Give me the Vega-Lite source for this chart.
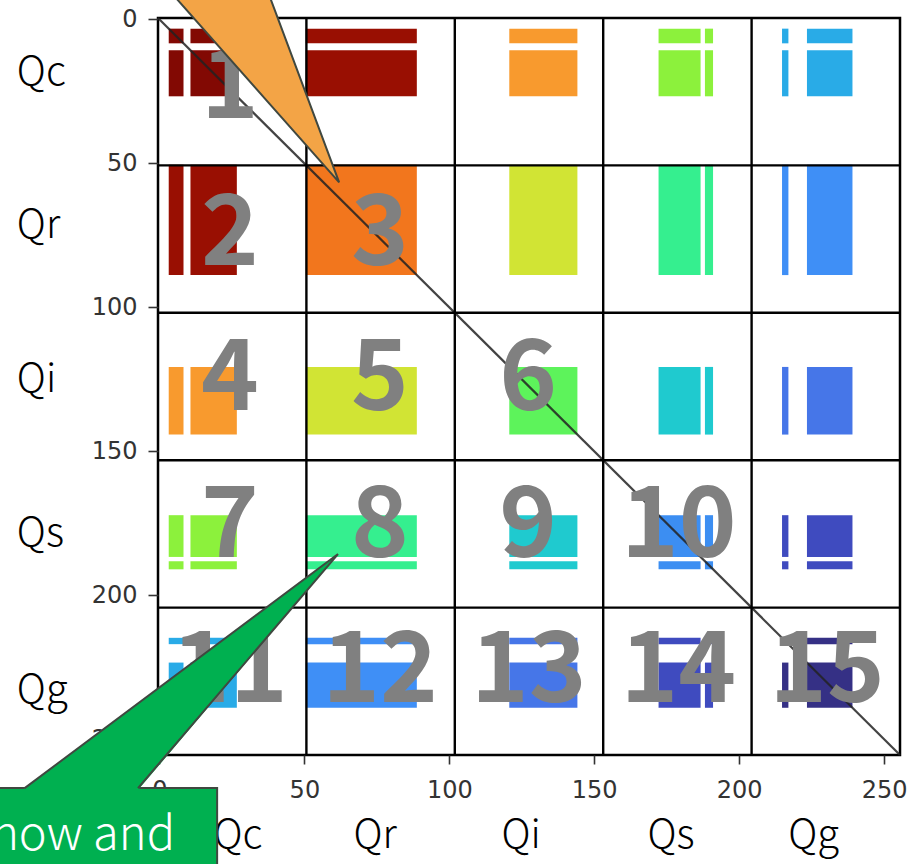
{
  "$schema": "https://vega.github.io/schema/vega-lite/v6.json",
  "width": 742,
  "height": 737,
  "autosize": {"type": "none"},
  "padding": {"left": 158, "top": 18, "right": 12, "bottom": 109},
  "background": "white",
  "config": {
    "view": {"stroke": "black", "strokeWidth": 2.5},
    "axis": {"labelFont": "DejaVu Sans", "labelFontSize": 24, "labelColor": "#333333", "tickColor": "#333333", "tickWidth": 1.6, "domain": false, "grid": false, "labelFlush": false, "labelOverlap": false, "tickCount": 6},
    "axisX": {"tickSize": 9, "labelPadding": 14},
    "axisY": {"tickSize": 10, "labelPadding": 11}
  },
  "datasets": {
    "vars": [
      {"v": "Qc", "s": [3.2, 10.7], "e": [8.3, 26.7]},
      {"v": "Qr", "s": [50.5], "e": [88.8]},
      {"v": "Qi", "s": [120.7], "e": [144.2]},
      {"v": "Qs", "s": [172.2, 188.2], "e": [186.7, 191.0]},
      {"v": "Qg", "s": [214.8, 223.4], "e": [217.0, 239.1]}
    ],
    "cells": [
      {"row": "Qc", "col": "Qc", "k": 1}, {"row": "Qc", "col": "Qr", "k": 2}, {"row": "Qc", "col": "Qi", "k": 4}, {"row": "Qc", "col": "Qs", "k": 7}, {"row": "Qc", "col": "Qg", "k": 11},
      {"row": "Qr", "col": "Qc", "k": 2}, {"row": "Qr", "col": "Qr", "k": 3}, {"row": "Qr", "col": "Qi", "k": 5}, {"row": "Qr", "col": "Qs", "k": 8}, {"row": "Qr", "col": "Qg", "k": 12},
      {"row": "Qi", "col": "Qc", "k": 4}, {"row": "Qi", "col": "Qr", "k": 5}, {"row": "Qi", "col": "Qi", "k": 6}, {"row": "Qi", "col": "Qs", "k": 9}, {"row": "Qi", "col": "Qg", "k": 13},
      {"row": "Qs", "col": "Qc", "k": 7}, {"row": "Qs", "col": "Qr", "k": 8}, {"row": "Qs", "col": "Qi", "k": 9}, {"row": "Qs", "col": "Qs", "k": 10}, {"row": "Qs", "col": "Qg", "k": 14},
      {"row": "Qg", "col": "Qc", "k": 11}, {"row": "Qg", "col": "Qr", "k": 12}, {"row": "Qg", "col": "Qi", "k": 13}, {"row": "Qg", "col": "Qs", "k": 14}, {"row": "Qg", "col": "Qg", "k": 15}
    ],
    "numbers": [
      {"n": "1", "x": 24.3, "y": 34.2},
      {"n": "2", "x": 24.3, "y": 85.3}, {"n": "3", "x": 76.1, "y": 85.3},
      {"n": "4", "x": 24.3, "y": 135.7}, {"n": "5", "x": 76.1, "y": 135.7}, {"n": "6", "x": 127.2, "y": 135.7},
      {"n": "7", "x": 24.3, "y": 186.7}, {"n": "8", "x": 76.1, "y": 186.7}, {"n": "9", "x": 127.2, "y": 186.7}, {"n": "10", "x": 179.2, "y": 186.7},
      {"n": "11", "x": 24.3, "y": 237.1}, {"n": "12", "x": 76.1, "y": 237.1}, {"n": "13", "x": 127.4, "y": 237.1}, {"n": "14", "x": 179.0, "y": 237.1}, {"n": "15", "x": 230.3, "y": 237.1}
    ]
  },
  "layer": [
    {
      "data": {"name": "cells"},
      "transform": [
        {"lookup": "row", "from": {"data": {"name": "vars"}, "key": "v", "fields": ["s", "e"]}, "as": ["ys", "ye"]},
        {"lookup": "col", "from": {"data": {"name": "vars"}, "key": "v", "fields": ["s", "e"]}, "as": ["xs", "xe"]},
        {"flatten": ["ys", "ye"]},
        {"flatten": ["xs", "xe"]}
      ],
      "mark": {"type": "rect"},
      "encoding": {
        "x": {"field": "xs", "type": "quantitative", "title": null, "scale": {"domain": [-0.5, 255.5], "nice": false, "zero": false},
              "axis": {"values": [0, 50, 100, 150, 200, 250], "title": null}},
        "x2": {"field": "xe", "title": null},
        "y": {"field": "ys", "type": "quantitative", "title": null, "scale": {"domain": [-0.5, 255.5], "nice": false, "zero": false, "reverse": true},
              "axis": {"values": [0, 50, 100, 150, 200, 250], "title": null}},
        "y2": {"field": "ye", "title": null},
        "color": {"field": "k", "type": "nominal", "legend": null,
                  "scale": {"domain": [1, 2, 3, 4, 5, 6, 7, 8, 9, 10, 11, 12, 13, 14, 15],
                            "range": ["#820903", "#990f02", "#f2761d", "#f89a2e", "#d1e434", "#5df35b", "#8cf13c", "#35ef8f", "#1fcacf", "#3c8ef2", "#29abe7", "#3f8ff6", "#4676e8", "#3f4bbf", "#353085"]}}
      }
    },
    {
      "data": {"values": [{"x": -0.5, "y": -0.5, "x2": 255.5, "y2": 255.5}]},
      "mark": {"type": "rule", "color": "#222222", "strokeWidth": 2.2, "opacity": 0.85},
      "encoding": {
        "x": {"field": "x", "type": "quantitative", "title": null},
        "y": {"field": "y", "type": "quantitative", "title": null},
        "x2": {"field": "x2", "title": null},
        "y2": {"field": "y2", "title": null}
      }
    },
    {
      "data": {"values": [{"b": 50.7}, {"b": 101.9}, {"b": 153.1}, {"b": 204.3}]},
      "mark": {"type": "rule", "color": "black", "strokeWidth": 2.4},
      "encoding": {"x": {"field": "b", "type": "quantitative", "title": null}}
    },
    {
      "data": {"values": [{"b": 50.7}, {"b": 101.9}, {"b": 153.1}, {"b": 204.3}]},
      "mark": {"type": "rule", "color": "black", "strokeWidth": 2.4},
      "encoding": {"y": {"field": "b", "type": "quantitative", "title": null}}
    },
    {
      "data": {"name": "numbers"},
      "mark": {"type": "text", "font": "Noto Sans CJK JP", "fontSize": 98, "fontWeight": "bold", "color": "#808080", "align": "center", "baseline": "alphabetic"},
      "encoding": {
        "x": {"field": "x", "type": "quantitative", "title": null},
        "y": {"field": "y", "type": "quantitative", "title": null},
        "text": {"field": "n"}
      }
    },
    {
      "data": {"values": [{"x": 5.16, "y": -8.06, "y2": -8.06}, {"x": 38.0, "y": -8.06, "y2": 29.3}, {"x": 62.0, "y": 56.6, "y2": 56.6}]},
      "mark": {"type": "area", "orient": "vertical", "color": "#f3a446", "opacity": 1, "stroke": "#404840", "strokeWidth": 2},
      "encoding": {
        "x": {"field": "x", "type": "quantitative", "title": null},
        "y": {"field": "y", "type": "quantitative", "title": null},
        "y2": {"field": "y2", "title": null}
      }
    },
    {
      "data": {"values": [{"t": "Qc", "x": -49.2, "y": 22.8}, {"t": "Qr", "x": -49.2, "y": 75.9}, {"t": "Qi", "x": -49.2, "y": 129.4}, {"t": "Qs", "x": -49.2, "y": 182.9}, {"t": "Qg", "x": -49.2, "y": 237.4}]},
      "mark": {"type": "text", "font": "Noto Sans CJK JP", "fontSize": 40, "fontWeight": 300, "color": "black", "align": "left", "baseline": "alphabetic"},
      "encoding": {
        "x": {"field": "x", "type": "quantitative", "title": null},
        "y": {"field": "y", "type": "quantitative", "title": null},
        "text": {"field": "t"}
      }
    },
    {
      "data": {"values": [{"t": "Qc", "x": 27.1, "y": 287.8}, {"t": "Qr", "x": 74.4, "y": 287.8}, {"t": "Qi", "x": 124.8, "y": 287.8}, {"t": "Qs", "x": 176.5, "y": 287.8}, {"t": "Qg", "x": 225.7, "y": 287.8}]},
      "mark": {"type": "text", "font": "Noto Sans CJK JP", "fontSize": 40, "fontWeight": 300, "color": "black", "align": "center", "baseline": "alphabetic"},
      "encoding": {
        "x": {"field": "x", "type": "quantitative", "title": null},
        "y": {"field": "y", "type": "quantitative", "title": null},
        "text": {"field": "t"}
      }
    },
    {
      "data": {"values": [{"x": -80, "x2": 19.9, "y": 267.0, "y2": 320}]},
      "mark": {"type": "rect", "color": "#00b050", "stroke": "#404840", "strokeWidth": 2},
      "encoding": {
        "x": {"field": "x", "type": "quantitative", "title": null},
        "x2": {"field": "x2", "title": null},
        "y": {"field": "y", "type": "quantitative", "title": null},
        "y2": {"field": "y2", "title": null}
      }
    },
    {
      "data": {"values": [{"x": -46.5, "y": 267.0, "y2": 267.7}, {"x": -7.4, "y": 237.6, "y2": 267.7}, {"x": 61.6, "y": 185.7, "y2": 185.7}]},
      "mark": {"type": "area", "orient": "vertical", "color": "#00b050", "opacity": 1},
      "encoding": {
        "x": {"field": "x", "type": "quantitative", "title": null},
        "y": {"field": "y", "type": "quantitative", "title": null},
        "y2": {"field": "y2", "title": null}
      }
    },
    {
      "data": {"values": [{"i": 1, "x": -46.5, "y": 267.0}, {"i": 2, "x": 61.6, "y": 185.7}, {"i": 3, "x": -7.4, "y": 267.0}]},
      "mark": {"type": "line", "color": "#404840", "strokeWidth": 2},
      "encoding": {
        "x": {"field": "x", "type": "quantitative", "title": null},
        "y": {"field": "y", "type": "quantitative", "title": null},
        "order": {"field": "i"}
      }
    },
    {
      "data": {"values": [{"t": "how and", "x": 5.4, "y": 288.5}]},
      "mark": {"type": "text", "font": "Noto Sans CJK JP", "fontSize": 47, "fontWeight": 300, "color": "white", "align": "right", "baseline": "alphabetic"},
      "encoding": {
        "x": {"field": "x", "type": "quantitative", "title": null},
        "y": {"field": "y", "type": "quantitative", "title": null},
        "text": {"field": "t"}
      }
    }
  ]
}
